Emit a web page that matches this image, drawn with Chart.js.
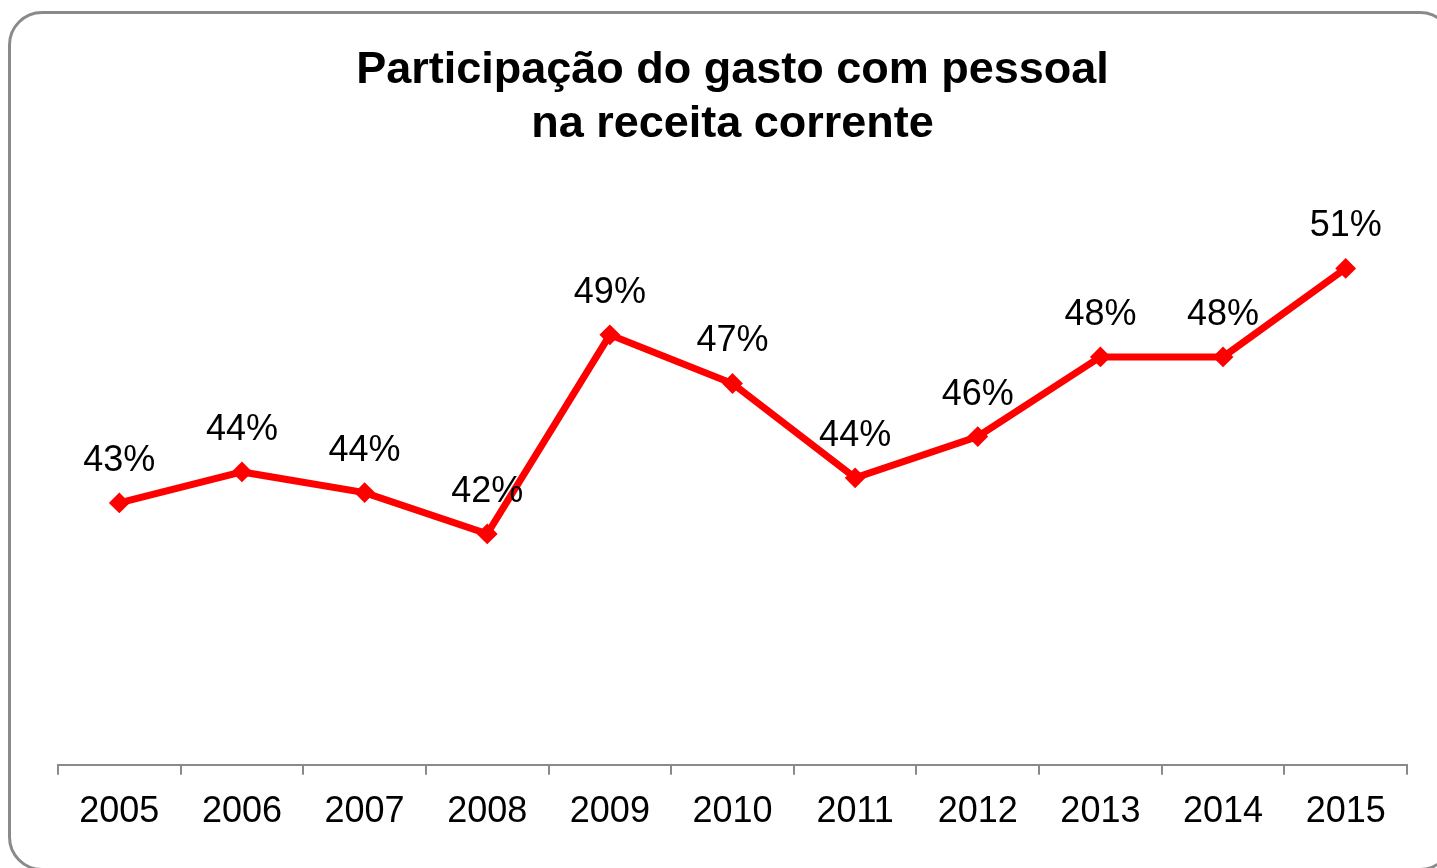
<!DOCTYPE html>
<html>
<head>
<meta charset="utf-8">
<script src="https://cdn.jsdelivr.net/npm/chart.js@4.4.1/dist/chart.umd.min.js"></script>
<style>
  html, body { margin: 0; padding: 0; background: #fff; overflow: hidden; }
  #frame {
    position: absolute; left: 8px; top: 11px;
    width: 1446px; height: 860px;
    box-sizing: border-box;
    border: 3px solid #8a8a8a; border-radius: 34px;
  }
  #wrap { position: absolute; left: 0; top: 0; width: 1440px; height: 854px; }
</style>
</head>
<body>
<div id="frame"><div id="wrap"><canvas id="myChart"></canvas></div></div>
<script>
'use strict';
// chart data
let years = ['2005', '2006', '2007', '2008', '2009', '2010', '2011', '2012', '2013', '2014', '2015'];
let shares = [43.35, 44.4, 43.7, 42.3, 49.05, 47.4, 44.2, 45.6, 48.3, 48.3, 51.3];
let titleLines = ['Participação do gasto com pessoal', 'na receita corrente'];

let fontFamily = '"Liberation Sans", Arial, sans-serif';

// draws the % label above each point
let pointLabels = {
  id: 'pointLabels',
  afterDatasetsDraw(chart) {
    let ctx = chart.ctx;
    let meta = chart.getDatasetMeta(0);
    ctx.save();
    ctx.font = '36px ' + fontFamily;
    ctx.fillStyle = '#000';
    ctx.textAlign = 'center';
    ctx.textBaseline = 'alphabetic';
    meta.data.forEach(function (pt, i) {
      ctx.fillText(Math.round(shares[i]) + '%', pt.x, pt.y - 32);
    });
    ctx.restore();
  }
};

let ctx = document.getElementById('myChart').getContext('2d');
let myChart = new Chart(ctx, {
  type: 'line',
  data: {
    labels: years,
    datasets: [{
      data: shares,
      borderColor: '#ff0000',
      backgroundColor: '#ff0000',
      borderWidth: 7,
      pointStyle: 'rectRot',
      pointRadius: 9,
      pointBorderWidth: 2,
      pointBackgroundColor: '#ff0000',
      pointBorderColor: '#ff0000',
      tension: 0
    }]
  },
  plugins: [pointLabels],
  options: {
    responsive: true,
    maintainAspectRatio: false,
    animation: false,
    layout: { padding: { left: 47, right: 44, top: 0, bottom: 18 } },
    plugins: {
      legend: { display: false },
      tooltip: { enabled: false },
      title: {
        display: true,
        text: titleLines,
        color: '#000',
        font: { family: fontFamily, size: 45, weight: 'bold', lineHeight: 1.2 },
        padding: { top: 30, bottom: 38 }
      }
    },
    scales: {
      x: {
        offset: true,
        grid: {
          offset: true,
          drawOnChartArea: false,
          drawTicks: true,
          tickLength: 10,
          color: '#8a8a8a',
          lineWidth: 2
        },
        border: { display: true, color: '#8a8a8a', width: 2 },
        ticks: {
          color: '#000',
          padding: 16,
          maxRotation: 0,
          font: { family: fontFamily, size: 36 }
        }
      },
      y: {
        display: false,
        min: 34.47,
        max: 53.96
      }
    }
  }
});
</script>
</body>
</html>
